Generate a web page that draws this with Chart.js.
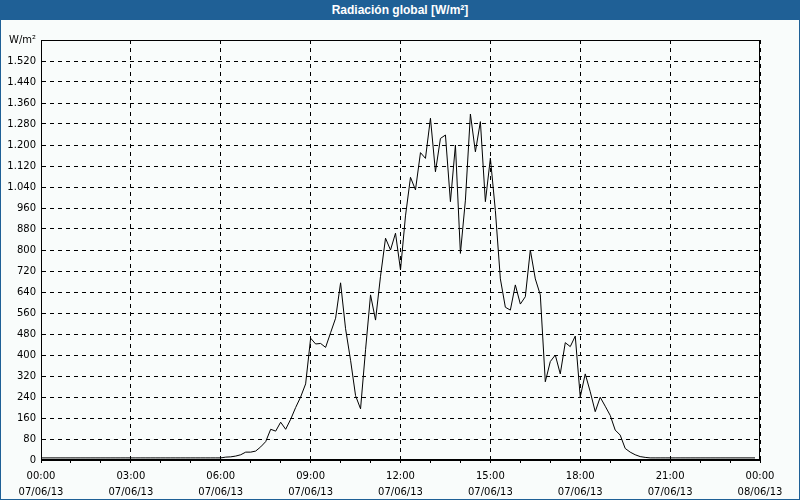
<!DOCTYPE html>
<html>
<head>
<meta charset="utf-8">
<script src="https://cdn.jsdelivr.net/npm/chart.js@4/dist/chart.umd.min.js"></script>
<style>
  html, body { margin: 0; padding: 0; background: #fff; }
  #wrap {
    position: relative;
    width: 800px;
    height: 500px;
    box-sizing: border-box;
    border: 1px solid #1f6096;
    border-top: none;
    background: #f9fcfb;
  }
  #titulo {
    position: absolute;
    left: -1px; top: 0;
    width: 800px; height: 20px;
    background: #1f6096;
    color: #fff;
    font: bold 12px 'Liberation Sans', Arial, sans-serif;
    line-height: 20px;
    text-align: center;
  }
  #grafico { position: absolute; left: 0; top: 20px; }
</style>
</head>
<body>
<div id="wrap">
  <div id="titulo">Radiación global [W/m²]</div>
  <canvas id="grafico" width="798" height="479"></canvas>
</div>
<script>
// one sample every 10 minutes, 07/06/13 00:00 .. 23:50
const minutosPaso = 10
const valores = [
  8, 8, 8, 8, 8, 8, 8, 8, 8, 8, 8, 8, 8, 8, 8, 8, 8, 8, 8, 8, 8, 8, 8, 8,
  8, 8, 8, 8, 8, 8, 8, 8, 8, 8, 8, 8, 8, 11, 12, 15, 20, 30, 30, 34,
  50, 70, 117, 110, 144, 117, 155, 200, 240, 290, 464, 442, 444, 429, 485, 540,
  675, 500, 380, 245, 195, 420, 629, 533, 700, 845, 800, 864, 724, 930, 1077, 1029,
  1171, 1149, 1302, 1098, 1225, 1238, 984, 1200, 787, 990, 1318, 1174, 1289, 984, 1150, 950,
  690, 582, 571, 667, 594, 622, 800, 690, 629, 298, 375, 400, 328, 447, 432, 472,
  240, 328, 260, 184, 239, 205, 170, 114, 95, 44, 30, 20, 13, 10, 8, 8,
  8, 8, 8, 8, 8, 8, 8, 8, 8, 8, 8, 8, 8, 8, 8, 8, 8, 8, 8, 8
]
const horasEje = ['00:00', '03:00', '06:00', '09:00', '12:00', '15:00', '18:00', '21:00', '00:00']
const fechasEje = ['07/06/13', '07/06/13', '07/06/13', '07/06/13', '07/06/13', '07/06/13', '07/06/13', '07/06/13', '08/06/13']
const unidadY = 'W/m²'
const maxY = 1600
const pasoY = 80

const fuenteEje = { family: "'DejaVu Sans', sans-serif", size: 10, lineHeight: 1.55 }

const formatoMiles = (v) =>
  v >= 1000 ? Math.floor(v / 1000) + '.' + String(v % 1000).padStart(3, '0') : String(v)

// solid frame around the plot area (top and right sides)
const marco = {
  id: 'marco',
  afterDraw(chart) {
    const { ctx, chartArea: a } = chart
    ctx.save()
    ctx.strokeStyle = '#000'
    ctx.lineWidth = 1
    ctx.strokeRect(Math.round(a.left) + 0.5, Math.round(a.top) + 0.5,
      Math.round(a.right - a.left) - 1, Math.round(a.bottom - a.top) - 1)
    ctx.restore()
  }
}

const ctx = document.getElementById('grafico').getContext('2d')
new Chart(ctx, {
  type: 'line',
  data: {
    datasets: [{
      data: valores.map((v, i) => ({ x: (i * minutosPaso) / 60, y: v })),
      borderColor: '#000',
      borderWidth: 1,
      pointRadius: 0,
      tension: 0,
      fill: false
    }]
  },
  options: {
    responsive: false,
    animation: false,
    devicePixelRatio: 1,
    layout: { padding: { top: 20, right: 39, left: 0, bottom: 0 } },
    plugins: {
      legend: { display: false },
      tooltip: { enabled: false }
    },
    scales: {
      x: {
        type: 'linear',
        min: 0,
        max: 24,
        afterFit: (scale) => { scale.height = 39 },
        ticks: {
          stepSize: 1,
          autoSkip: false,
          maxRotation: 0,
          padding: 6,
          color: '#000',
          font: fuenteEje,
          callback: (v) => (v % 3 === 0 ? [horasEje[v / 3], fechasEje[v / 3]] : '')
        },
        grid: {
          color: (c) => (c.tick && c.tick.value % 3 === 0 ? '#000' : 'rgba(0,0,0,0)'),
          tickColor: '#000',
          tickLength: 3,
          tickBorderDash: []
        },
        border: { color: '#000', dash: [4, 4] }
      },
      y: {
        min: 0,
        max: maxY,
        afterFit: (scale) => { scale.width = 40 },
        ticks: {
          stepSize: pasoY,
          padding: 5,
          color: '#000',
          font: fuenteEje,
          callback: (v) => (v === maxY ? unidadY : formatoMiles(v))
        },
        grid: { color: '#000', drawTicks: false },
        border: { color: '#000', dash: [4, 4] }
      }
    }
  },
  plugins: [marco]
})
</script>
</body>
</html>
